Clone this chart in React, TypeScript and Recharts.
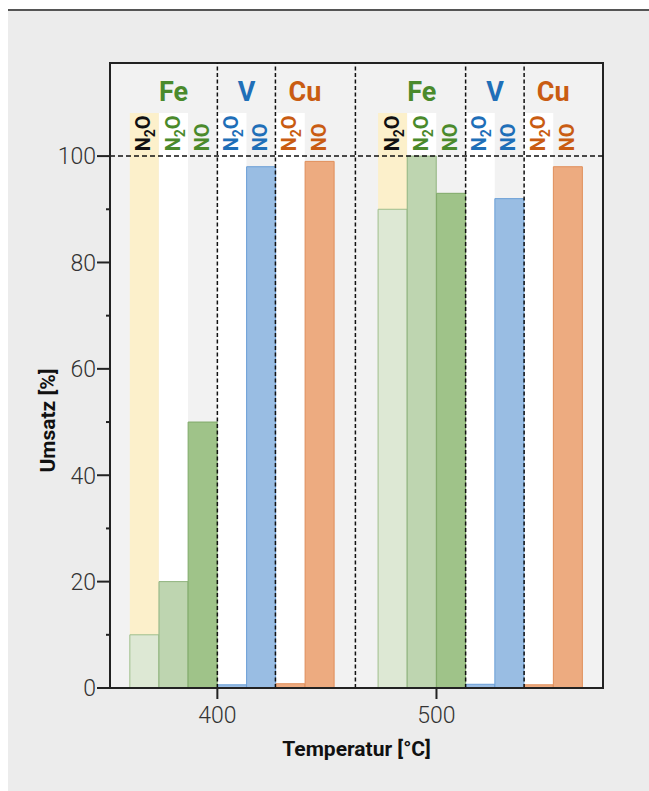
import {
  Bar,
  BarChart,
  CartesianGrid,
  Cell,
  ReferenceArea,
  ReferenceDot,
  ReferenceLine,
  XAxis,
  YAxis,
} from "recharts";

// bar centres on the temperature axis (°C)
const temps = [
  366.7, 380.0, 393.3, 406.7, 420.0, 433.3, 446.7,
  480.0, 493.3, 506.7, 520.0, 533.3, 546.7, 560.0,
];
const metals = ["Fe", "Fe", "Fe", "V", "V", "Cu", "Cu", "Fe", "Fe", "Fe", "V", "V", "Cu", "Cu"];
const species = ["N2O", "N2O", "NO", "N2O", "NO", "N2O", "NO", "N2O", "N2O", "NO", "N2O", "NO", "N2O", "NO"];
const shades = ["fe1", "fe2", "fe3", "v", "v", "cu", "cu", "fe1", "fe2", "fe3", "v", "v", "cu", "cu"];
const conversion = [10, 20, 50, 0.6, 98, 0.8, 99, 90, 100, 93, 0.7, 92, 0.6, 98];

const columnTop = 108.1; // shaded column behind the N2O labels
const speciesLabelY = 100.9;
const groupLabels = ["Fe", "V", "Cu", "Fe", "V", "Cu"];
const groupLabelTemps = [380.0, 413.3, 440.0, 493.3, 526.7, 553.3];
const groupLabelY = 110.3;
const dividers = [400, 426.5, 463, 513.3, 540];

const xDomain = [351, 576];
const xTicks = [400, 500];
const yDomain = [0, 117.5];
const yTicks = [0, 10, 20, 30, 40, 50, 60, 70, 80, 90, 100];

const palette: Record<string, { fill: string; stroke: string; text: string }> = {
  fe1: { fill: "#dde8d4", stroke: "#9fbf8c", text: "#111111" },
  fe2: { fill: "#bed5b0", stroke: "#8fb37d", text: "#4a8a2c" },
  fe3: { fill: "#9fc389", stroke: "#80aa69", text: "#4a8a2c" },
  v: { fill: "#99bde3", stroke: "#6a9ed6", text: "#1f6fb8" },
  cu: { fill: "#edab80", stroke: "#e08f5a", text: "#c95c12" },
};
const metalColor: Record<string, string> = { Fe: "#4a8a2c", V: "#1f6fb8", Cu: "#c95c12" };

const rows = temps.map((t, i) => ({
  t,
  metal: metals[i],
  conversion: conversion[i],
  column: species[i] === "N2O" ? columnTop : 0,
}));

const font = "Roboto, 'Liberation Sans', sans-serif";
const ink = "#222";

function columnFill(i: number) {
  if (species[i] !== "N2O") return "none";
  return shades[i] === "fe1" ? "#fcf0cb" : "#ffffff";
}

function YTick(props: any) {
  const { x, y, payload } = props;
  const major = payload.value % 20 === 0;
  return (
    <g>
      <line x1={major ? x + 1 : x + 10} x2={x + 14} y1={y} y2={y} stroke={ink} strokeWidth={2} />
      {major && (
        <text x={x} y={y} dy="0.36em" textAnchor="end" fill="#333" fontSize={23} fontFamily={font} fontWeight={300}>
          {payload.value}
        </text>
      )}
    </g>
  );
}

function SpeciesText({ cx, cy, text, color }: { cx: number; cy: number; text: string; color: string }) {
  return (
    <text
      transform={`translate(${cx + 6}, ${cy}) rotate(-90)`}
      fill={color}
      fontFamily={font}
      fontWeight={700}
      fontSize={20}
    >
      {text.split("").map((ch, k) =>
        /\d/.test(ch) ? (
          <tspan key={k} dy={5} fontSize={14}>
            {ch}
          </tspan>
        ) : (
          <tspan key={k} dy={k > 0 && /\d/.test(text[k - 1]) ? -5 : 0}>
            {ch}
          </tspan>
        ),
      )}
    </text>
  );
}

export default function App() {
  return (
    <div
      style={{
        position: "fixed",
        left: 8,
        top: 9,
        right: 0,
        bottom: 0,
        borderTop: "2px solid #555",
        background: "#ececec",
      }}
    >
      <BarChart
        width={641}
        height={780}
        data={rows}
        margin={{ top: 52, right: 46, left: 42, bottom: 43 }}
        barCategoryGap={0}
        barGap={0}
      >
        <CartesianGrid fill="#f2f2f2" horizontal={false} vertical={false} />
        <XAxis
          type="number"
          dataKey="t"
          domain={xDomain}
          ticks={xTicks}
          interval={0}
          height={60}
          tickSize={11}
          tickMargin={8}
          axisLine={{ stroke: ink, strokeWidth: 2 }}
          tickLine={{ stroke: ink, strokeWidth: 2 }}
          tick={{ fill: "#333", fontSize: 23, fontFamily: font, fontWeight: 300 }}
          label={{
            content: ({ viewBox }: any) => (
              <text
                x={viewBox.x + viewBox.width / 2}
                y={viewBox.y + 68}
                textAnchor="middle"
                fill="#111"
                fontSize={21}
                fontWeight={700}
                fontFamily={font}
              >
                Temperatur [°C]
              </text>
            ),
          }}
        />
        <XAxis xAxisId="bg" type="number" dataKey="t" domain={xDomain} hide />
        <YAxis
          type="number"
          domain={yDomain}
          ticks={yTicks}
          interval={0}
          width={60}
          tickSize={13}
          tickMargin={1}
          tickLine={false}
          axisLine={{ stroke: ink, strokeWidth: 2 }}
          tick={<YTick />}
          label={{
            content: ({ viewBox }: any) => (
              <text
                transform={`translate(${viewBox.x + 5}, ${viewBox.y + viewBox.height / 2 + 45}) rotate(-90)`}
                textAnchor="middle"
                fill="#111"
                fontSize={21}
                fontWeight={700}
                fontFamily={font}
              >
                Umsatz [%]
              </text>
            ),
          }}
        />
        <Bar xAxisId="bg" dataKey="column" isAnimationActive={false}>
          {rows.map((_, i) => (
            <Cell key={i} fill={columnFill(i)} stroke="none" />
          ))}
        </Bar>
        <Bar dataKey="conversion" isAnimationActive={false}>
          {rows.map((_, i) => (
            <Cell key={i} fill={palette[shades[i]].fill} stroke={palette[shades[i]].stroke} strokeWidth={1} />
          ))}
        </Bar>
        <ReferenceLine y={100} stroke="#111" strokeDasharray="5 3" strokeWidth={1.5} />
        {dividers.map((d) => (
          <ReferenceLine key={d} x={d} stroke="#111" strokeDasharray="4 2.5" strokeWidth={1.5} />
        ))}
        <ReferenceArea x1={xDomain[0]} x2={xDomain[1]} y1={yDomain[0]} y2={yDomain[1]} fill="none" stroke={ink} strokeWidth={2} />
        {temps.map((t, i) => (
          <ReferenceDot
            key={`s${i}`}
            x={t}
            y={speciesLabelY}
            r={1}
            shape={(p: any) => (
              <SpeciesText cx={p.cx} cy={p.cy} text={species[i]} color={palette[shades[i]].text} />
            )}
          />
        ))}
        {groupLabels.map((g, i) => (
          <ReferenceDot
            key={`g${i}`}
            x={groupLabelTemps[i]}
            y={groupLabelY}
            r={1}
            shape={(p: any) => (
              <text x={p.cx} y={p.cy} textAnchor="middle" fill={metalColor[g]} fontSize={27} fontWeight={700} fontFamily={font}>
                {g}
              </text>
            )}
          />
        ))}
      </BarChart>
    </div>
  );
}
